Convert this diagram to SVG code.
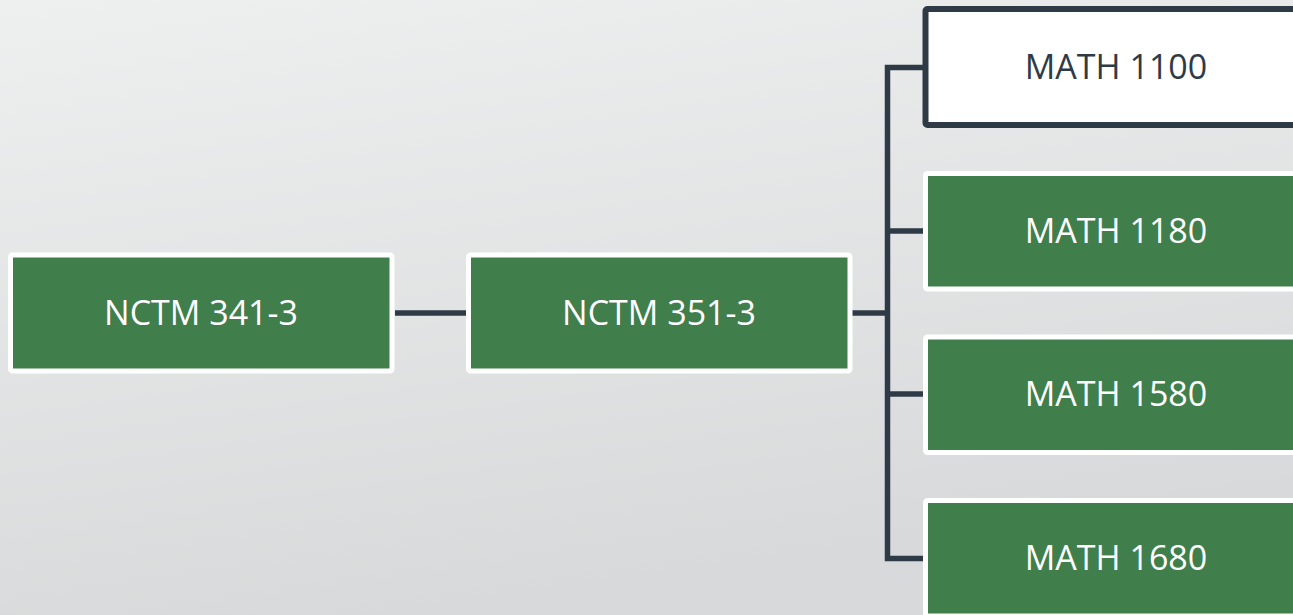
<svg xmlns="http://www.w3.org/2000/svg" width="1293" height="615" viewBox="0 0 1293 615">
<defs>
<linearGradient id="bg" x1="0" y1="0" x2="0.3" y2="1">
<stop offset="0" stop-color="#eef0f0"/>
<stop offset="1" stop-color="#d8d9da"/>
</linearGradient>
<style>
.g rect{fill:#407e4b;stroke:#ffffff;stroke-width:5}
.w rect{fill:#ffffff;stroke:#2e3b46;stroke-width:6}
text{font-family:"Open Sans","Liberation Sans",sans-serif;font-size:34px;text-anchor:middle}
.g text{fill:#ffffff}
.w text{fill:#2e3b46}
.c{stroke:#2e3b46;stroke-width:5.5;fill:none}
</style>
</defs>
<rect width="1293" height="615" fill="url(#bg)"/>
<g id="connectors">
<line class="c" x1="395" y1="313" x2="467" y2="313"/>
<line class="c" x1="852" y1="313" x2="888" y2="313"/>
<path class="c" d="M924 67.5 H887.5 V558.5 H924"/>
<line class="c" x1="887" y1="231" x2="924" y2="231"/>
<line class="c" x1="887" y1="394" x2="924" y2="394"/>
</g>
<g id="n341" class="g">
<rect x="10.5" y="255" width="381.5" height="116" rx="2"/>
<text x="201" y="325">NCTM 341-3</text>
</g>
<g id="n351" class="g">
<rect x="468.5" y="255" width="381.5" height="116" rx="2"/>
<text x="659" y="325">NCTM 351-3</text>
</g>
<g id="m1100" class="w">
<rect x="925.5" y="9" width="381.5" height="116" rx="2"/>
<text x="1116" y="79">MATH 1100</text>
</g>
<g id="m1180" class="g">
<rect x="925.5" y="173.5" width="381.5" height="115.5" rx="2"/>
<text x="1116" y="243">MATH 1180</text>
</g>
<g id="m1580" class="g">
<rect x="925.5" y="337" width="381.5" height="115.5" rx="2"/>
<text x="1116" y="406">MATH 1580</text>
</g>
<g id="m1680" class="g">
<rect x="925.5" y="500.5" width="381.5" height="115.5" rx="2"/>
<text x="1116" y="569.5">MATH 1680</text>
</g>
</svg>
